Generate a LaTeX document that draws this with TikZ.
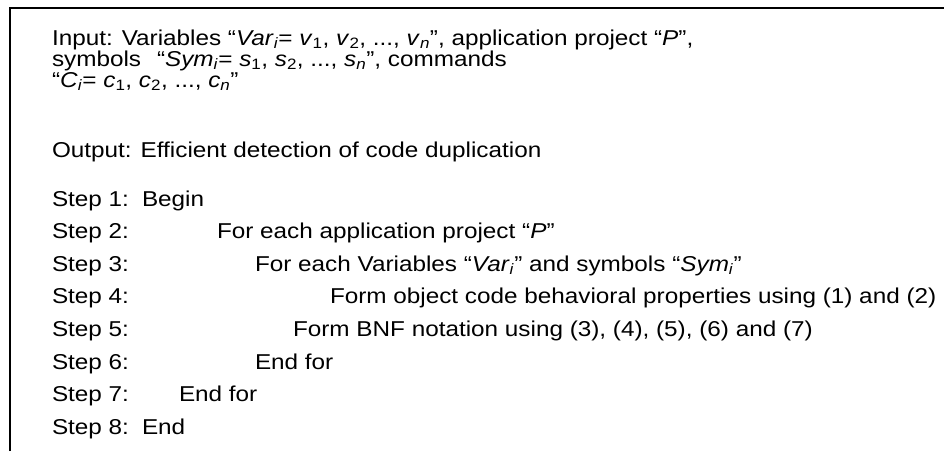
\documentclass[tikz,border=0pt]{standalone}
\usepackage{fontspec}
\setmainfont{Liberation Sans}[FakeStretch=1.13]
\usetikzlibrary{positioning}

\newcommand{\idx}[1]{\textsubscript{#1}}

\begin{document}
\begin{tikzpicture}[x=1pt,y=-1pt,
        every node/.style={algline},
        algline/.style={anchor=base west,inner sep=0pt,outer sep=0pt,font=\fontsize{21.5}{25}\selectfont}]

        \useasboundingbox (0,0) rectangle (944,451);
        \draw[line width=1.5pt] (10,451) -- (10,8) -- (944,8);

        \node (in1) at (52,45) {Input: Variables ``\textit{Var}\idx{\textit{i}}= \textit{v}\idx{1}, \textit{v}\idx{2}, ..., \textit{v}\idx{\textit{n}}'', application project ``\textit{P}'',};
        \node (in2) at (52,66) {symbols};
        \node (in2b) at (157,66) {``\textit{Sym}\idx{\textit{i}}= \textit{s}\idx{1}, \textit{s}\idx{2}, ..., \textit{s}\idx{\textit{n}}'', commands};
        \node (in3) at (52,87) {``\textit{C}\idx{\textit{i}}= \textit{c}\idx{1}, \textit{c}\idx{2}, ..., \textit{c}\idx{\textit{n}}''};

        \node (out) at (52,157) {Output: Efficient detection of code duplication};

        \node (s1) at (52,206) {Step 1:};
        \node (s2) at (52,238.6) {Step 2:};
        \node (s3) at (52,271.2) {Step 3:};
        \node (s4) at (52,303.8) {Step 4:};
        \node (s5) at (52,336.4) {Step 5:};
        \node (s6) at (52,369) {Step 6:};
        \node (s7) at (52,401.6) {Step 7:};
        \node (s8) at (52,434.2) {Step 8:};

        \node (b1) at (142,206) {Begin};
        \node (b2) at (217,238.6) {For each application project ``\textit{P}''};
        \node (b3) at (255,271.2) {For each Variables ``\textit{Var}\idx{\textit{i}}'' and symbols ``\textit{Sym}\idx{\textit{i}}''};
        \node (b4) at (330,303.8) {Form object code behavioral properties using (1) and (2)};
        \node (b5) at (293,336.4) {Form BNF notation using (3), (4), (5), (6) and (7)};
        \node (b6) at (255,369) {End for};
        \node (b7) at (179,401.6) {End for};
        \node (b8) at (142,434.2) {End};
\end{tikzpicture}
\end{document}
